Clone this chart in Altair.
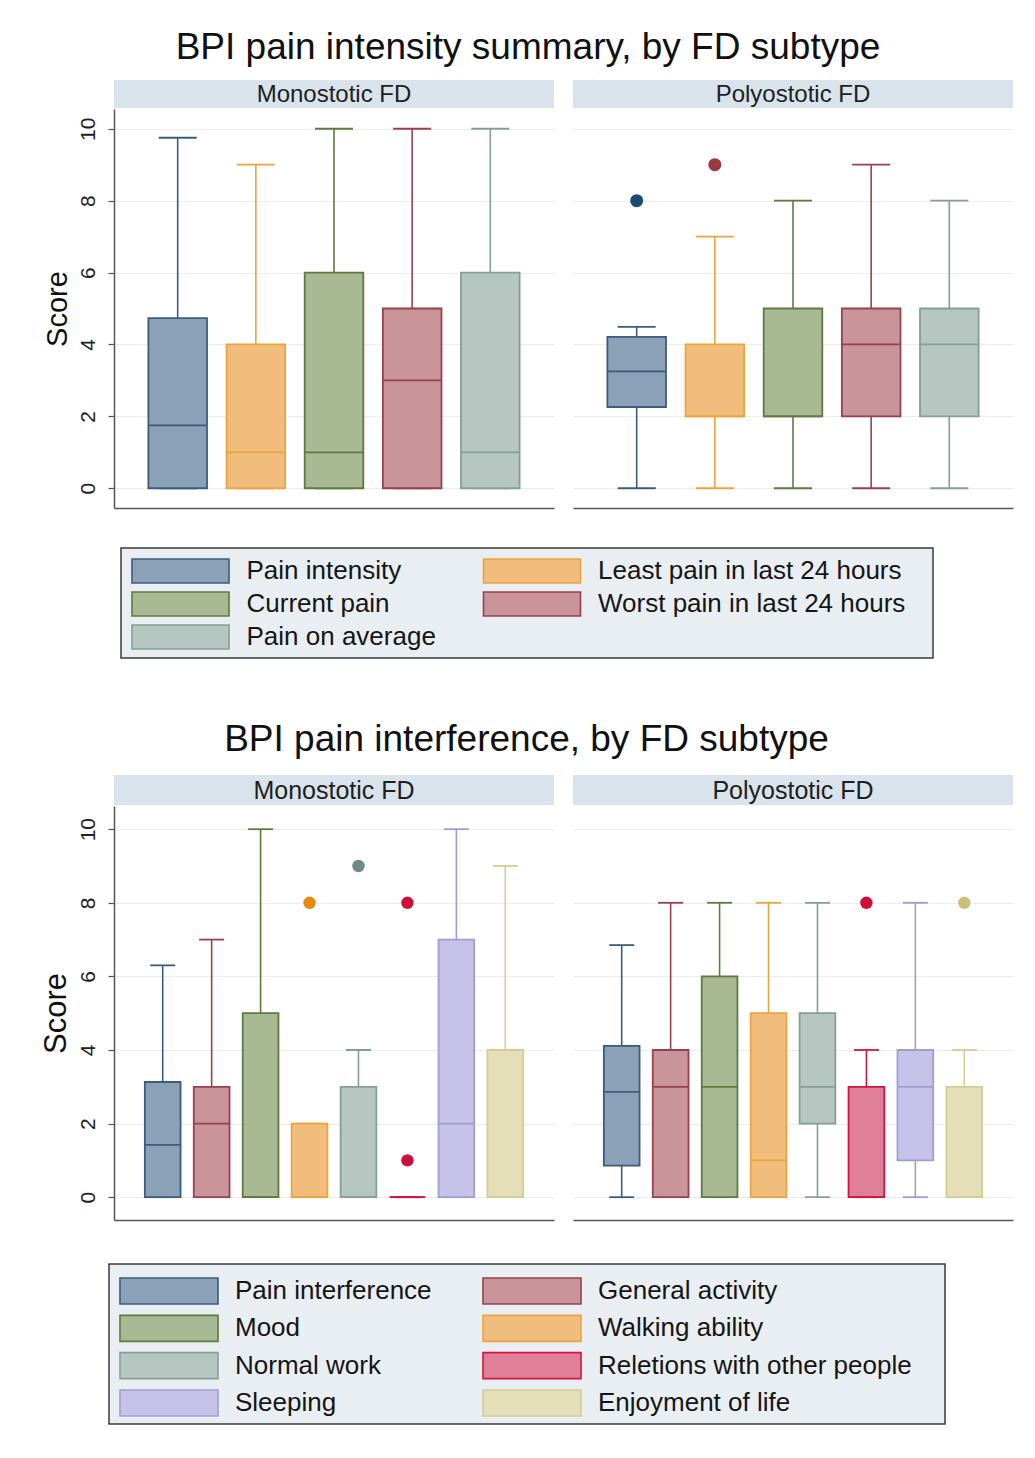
import altair as alt
import pandas as pd

FONT = "Liberation Sans"

# ---------------- data: top figure ----------------
panels = ["Monostotic FD", "Polyostotic FD"]

top_series = ["Pain intensity", "Least pain in last 24 hours", "Current pain",
              "Worst pain in last 24 hours", "Pain on average"]
top_mono_lo = [0, 0, 0, 0, 0]
top_mono_q1 = [0, 0, 0, 0, 0]
top_mono_med = [1.75, 1, 1, 3, 1]
top_mono_q3 = [4.73, 4, 6, 5, 6]
top_mono_hi = [9.75, 9, 10, 10, 10]

top_poly_lo = [0, 0, 0, 0, 0]
top_poly_q1 = [2.26, 2, 2, 2, 2]
top_poly_med = [3.25, 2, 2, 4, 4]
top_poly_q3 = [4.21, 4, 5, 5, 5]
top_poly_hi = [4.49, 7, 8, 9, 8]

top_out_panel = ["Polyostotic FD", "Polyostotic FD"]
top_out_series = ["Pain intensity", "Least pain in last 24 hours"]
top_out_value = [8, 9]

# ---------------- data: bottom figure ----------------
bot_series = ["Pain interference", "General activity", "Mood", "Walking ability",
              "Normal work", "Reletions with other people", "Sleeping", "Enjoyment of life"]
bot_mono_lo = [0, 0, 0, 0, 0, 0, 0, 0]
bot_mono_q1 = [0, 0, 0, 0, 0, 0, 0, 0]
bot_mono_med = [1.42, 2, 0, 0, 0, 0, 2, 0]
bot_mono_q3 = [3.13, 3, 5, 2, 3, 0, 7, 4]
bot_mono_hi = [6.3, 7, 10, 2, 4, 0, 10, 9]

bot_poly_lo = [0, 0, 0, 0, 0, 0, 0, 0]
bot_poly_q1 = [0.86, 0, 0, 0, 2, 0, 1, 0]
bot_poly_med = [2.86, 3, 3, 1, 3, 0, 3, 0]
bot_poly_q3 = [4.11, 4, 6, 5, 5, 3, 4, 3]
bot_poly_hi = [6.85, 8, 8, 8, 8, 4, 8, 4]

bot_out_panel = ["Monostotic FD", "Monostotic FD", "Monostotic FD", "Monostotic FD",
                 "Polyostotic FD", "Polyostotic FD"]
bot_out_series = ["Walking ability", "Normal work", "Reletions with other people",
                  "Reletions with other people", "Reletions with other people", "Enjoyment of life"]
bot_out_value = [8, 9, 8, 1, 8, 8]

y_ticks = [0, 2, 4, 6, 8, 10]

# ---------------- styles ----------------
FILL = {
    "blue": "#8ba1b8", "orange": "#f0bd7c", "green": "#a9b993", "red": "#c9959b",
    "teal": "#b5c7c0", "crimson": "#e07f99", "lav": "#c7c3e8", "khaki": "#e4dfb8",
}
STROKE = {
    "blue": "#3d5c7c", "orange": "#eca43c", "green": "#5f7a40", "red": "#96424d",
    "teal": "#84a096", "crimson": "#d1163f", "lav": "#a29cd2", "khaki": "#d4cc95",
}
top_keys = ["blue", "orange", "green", "red", "teal"]
bot_keys = ["blue", "red", "green", "orange", "teal", "crimson", "lav", "khaki"]
top_out_colors = {"Pain intensity": "#1c4a75", "Least pain in last 24 hours": "#9a3a40"}
bot_out_colors = {"Walking ability": "#e8890f", "Normal work": "#6e8c83",
                  "Reletions with other people": "#cf0f3b", "Enjoyment of life": "#cbc07a"}

GRID = "#ececec"
AXIS = "#555555"
HEADER = "#d9e3eb"


def box_df(series, keys, lo, q1, med, q3, hi):
    return pd.DataFrame({"series": series, "lo": lo, "q1": q1, "med": med, "q3": q3, "hi": hi,
                         "fillc": [FILL[k] for k in keys], "strokec": [STROKE[k] for k in keys]})


def out_df(panel, out_panel, out_series, out_value, colors):
    d = pd.DataFrame({"panel": out_panel, "series": out_series, "value": out_value})
    d = d[d["panel"] == panel].copy()
    d["ocolor"] = [colors[s] for s in d["series"]]
    return d


def y_axis(show, title_fs, visible=True):
    op = 1 if visible else 0
    if show:
        return alt.Axis(values=y_ticks, title="Score", titleFont=FONT, titleFontSize=title_fs,
                        titleFontWeight="normal", titleColor="#111", titlePadding=5,
                        titleOpacity=op,
                        labelFont=FONT, labelFontSize=21, labelColor="#222", labelAngle=270,
                        labelAlign="center", labelBaseline="bottom", labelPadding=10,
                        labelOpacity=op,
                        tickSize=6, tickColor=AXIS, tickWidth=1.2, tickOpacity=op,
                        domain=True, domainColor=AXIS, domainWidth=1.5, domainOpacity=op,
                        grid=visible, gridColor=GRID, gridWidth=1)
    return alt.Axis(values=y_ticks, title=None, labels=False, ticks=False, domain=False,
                    grid=True, gridColor=GRID, gridWidth=1)


def panel(df, odf, head_text, series, width, height, head_h, head_fs, ydom, pi, po,
          med_size, cap_size, dot_size, show_axis, title_fs):
    xenc = alt.X("series:N", sort=series,
                 scale=alt.Scale(domain=series, paddingInner=pi, paddingOuter=po),
                 axis=alt.Axis(labels=False, ticks=False, title=None, domain=True,
                               domainColor=AXIS, domainWidth=1.5, grid=False))
    ysc = alt.Scale(domain=ydom, nice=False, zero=False)
    yax = y_axis(show_axis, title_fs)
    fill = alt.Fill("fillc:N", scale=None)
    stroke = alt.Stroke("strokec:N", scale=None)
    scol = alt.Color("strokec:N", scale=None)
    base = alt.Chart(df)
    w_lo = base.mark_rule(strokeWidth=1.6).encode(
        x=xenc, y=alt.Y("lo:Q", scale=ysc, axis=yax), y2="q1:Q", stroke=stroke)
    w_hi = base.mark_rule(strokeWidth=1.6).encode(
        x=xenc, y=alt.Y("q3:Q", scale=ysc, axis=yax), y2="hi:Q", stroke=stroke)
    box = base.mark_bar(strokeWidth=1.8).encode(
        x=xenc, y=alt.Y("q1:Q", scale=ysc, axis=yax), y2="q3:Q", fill=fill, stroke=stroke)
    med = base.mark_tick(size=med_size, thickness=1.8, opacity=1).encode(
        x=xenc, y=alt.Y("med:Q", scale=ysc, axis=yax), color=scol)
    cap_lo = base.mark_tick(size=cap_size, thickness=1.8, opacity=1).encode(
        x=xenc, y=alt.Y("lo:Q", scale=ysc, axis=yax), color=scol)
    cap_hi = base.mark_tick(size=cap_size, thickness=1.8, opacity=1).encode(
        x=xenc, y=alt.Y("hi:Q", scale=ysc, axis=yax), color=scol)
    layers = [w_lo, w_hi, cap_lo, cap_hi, box, med]
    if len(odf):
        dots = alt.Chart(odf).mark_circle(size=dot_size, opacity=1).encode(
            x=xenc, y=alt.Y("value:Q", scale=ysc, axis=yax),
            fill=alt.Fill("ocolor:N", scale=None))
        layers.append(dots)
    hd = alt.Chart(pd.DataFrame({"label": [head_text]}))
    hrect = hd.mark_rect(fill=HEADER).encode(
        x=alt.value(0), x2=alt.value(width), y=alt.value(-head_h - 1), y2=alt.value(-1))
    htext = hd.mark_text(font=FONT, fontSize=head_fs, color="#1e1e1e", baseline="middle").encode(
        text="label:N", x=alt.value(width / 2), y=alt.value(-head_h / 2))
    layers += [hrect, htext]
    return alt.layer(*layers).properties(width=width, height=height)


def legend(series, keys, width, height, frame, col_x, row_y, text_dx, sym_w, sym_h, fs, title_fs):
    n = len(series)
    d = pd.DataFrame({
        "series": series,
        "col": [i % 2 for i in range(n)],
        "row": [i // 2 for i in range(n)],
        "fillc": [FILL[k] for k in keys],
        "strokec": [STROKE[k] for k in keys],
    })
    nrows = (n + 1) // 2
    xenc = alt.X("col:Q", scale=alt.Scale(domain=[0, 1], range=col_x), axis=None)
    yenc = alt.Y("row:Q", scale=alt.Scale(domain=[0, nrows - 1], range=row_y),
                 axis=y_axis(True, title_fs, visible=False))
    hh = sym_h / sym_w
    shape = f"M-1,-{hh:.4f}H1V{hh:.4f}H-1Z"
    fr = alt.Chart(pd.DataFrame({"f": [0]})).mark_rect(
        fill="#e9eef2", stroke="#3a3a3a", strokeWidth=1.5).encode(
        x=alt.value(frame[0]), x2=alt.value(frame[1]),
        y=alt.value(frame[2]), y2=alt.value(frame[3]))
    base = alt.Chart(d)
    sym = base.mark_point(shape=shape, size=sym_w * sym_w, filled=True, opacity=1,
                          strokeWidth=1.6).encode(
        x=xenc, y=yenc, fill=alt.Fill("fillc:N", scale=None),
        stroke=alt.Stroke("strokec:N", scale=None))
    txt = base.mark_text(font=FONT, fontSize=fs, align="left", baseline="middle", dx=text_dx,
                         color="#151515").encode(x=xenc, y=yenc, text="series:N")
    return alt.layer(fr, sym, txt).properties(width=width, height=height)


def row(title, offset, series, mono, poly, odf_m, odf_p, pw, ph, head_h, head_fs, ydom,
        pi, po, med_size, cap_size, dot_size, score_fs):
    pm = panel(mono, odf_m, panels[0], series, pw, ph, head_h, head_fs, ydom, pi, po,
               med_size, cap_size, dot_size, True, score_fs)
    pp = panel(poly, odf_p, panels[1], series, pw, ph, head_h, head_fs, ydom, pi, po,
               med_size, cap_size, dot_size, False, score_fs)
    return alt.hconcat(pm, pp, spacing=19, title=alt.Title(
        title, font=FONT, fontSize=37, fontWeight="normal", color="#111",
        anchor="middle", offset=offset)).resolve_scale(x="shared", y="shared")


top_m = box_df(top_series, top_keys, top_mono_lo, top_mono_q1, top_mono_med, top_mono_q3, top_mono_hi)
top_p = box_df(top_series, top_keys, top_poly_lo, top_poly_q1, top_poly_med, top_poly_q3, top_poly_hi)
bot_m = box_df(bot_series, bot_keys, bot_mono_lo, bot_mono_q1, bot_mono_med, bot_mono_q3, bot_mono_hi)
bot_p = box_df(bot_series, bot_keys, bot_poly_lo, bot_poly_q1, bot_poly_med, bot_poly_q3, bot_poly_hi)

PW = 440
row1 = row("BPI pain intensity summary, by FD subtype", 13, top_series, top_m, top_p,
           out_df(panels[0], top_out_panel, top_out_series, top_out_value, top_out_colors),
           out_df(panels[1], top_out_panel, top_out_series, top_out_value, top_out_colors),
           PW, 399, 28, 24, [-0.55, 10.55], 0.25, 0.44, 58, 38, 170, 29)
row2 = row("BPI pain interference, by FD subtype", 16, bot_series, bot_m, bot_p,
           out_df(panels[0], bot_out_panel, bot_out_series, bot_out_value, bot_out_colors),
           out_df(panels[1], bot_out_panel, bot_out_series, bot_out_value, bot_out_colors),
           PW, 414, 30, 25, [-0.62, 10.63], 0.27, 0.63, 35, 25, 155, 31)

leg1 = legend(top_series, top_keys, 2 * PW + 19, 213, [7, 819, 40, 150],
              [66.5, 418], [63, 129], 66, 97, 24, 26, 29)
leg2 = legend(bot_series, bot_keys, 2 * PW + 19, 213, [-5, 831, 44, 204],
              [55, 418], [71, 183], 66, 98, 26, 26, 31)

chart = alt.vconcat(row1, leg1, row2, leg2, spacing=0).resolve_scale(
    x="independent", y="independent").properties(
    padding={"left": 40, "top": 29, "right": 5, "bottom": 5},
    background="white",
).configure_view(stroke=None)

chart.save("out.html", embed_options={"renderer": "svg", "actions": False})
